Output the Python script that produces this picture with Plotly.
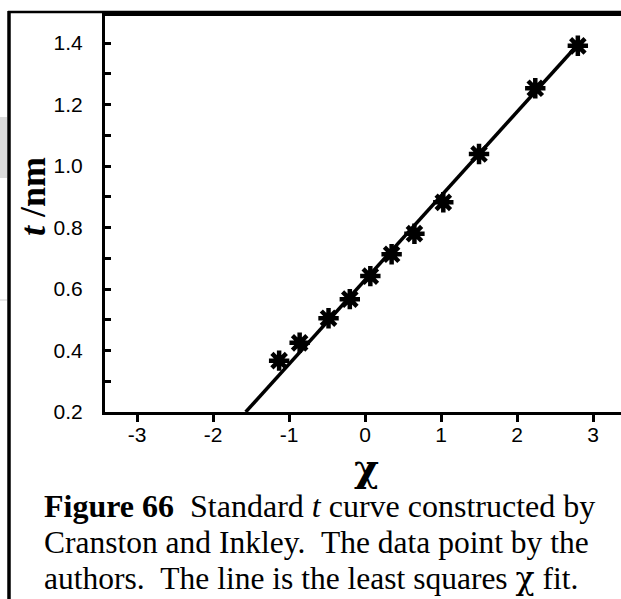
import plotly.graph_objects as go

# data
chi = [-1.13, -0.86, -0.48, -0.20, 0.07, 0.35, 0.65, 1.03, 1.50, 2.24, 2.80]
t_nm = [0.367, 0.425, 0.505, 0.567, 0.642, 0.713, 0.780, 0.882, 1.039, 1.253, 1.391]
fit_chi = [-1.57, 2.79]
fit_t = [0.20, 1.392]
x_ticks = [-3, -2, -1, 0, 1, 2, 3]
x_tick_labels = ["-3", "-2", "-1", "0", "1", "2", "3"]
y_ticks = [0.2, 0.4, 0.6, 0.8, 1.0, 1.2, 1.4]
y_tick_labels = ["0.2", "0.4", "0.6", "0.8", "1.0", "1.2", "1.4"]

W, H = 621, 599
L, R, T, B = 105, 0, 16, 187
PW, PH = W - L - R, H - T - B


def px(x):
    return (x - L) / PW


def py(y):
    return (H - B - y) / PH


fig = go.Figure()
fig.add_trace(go.Scatter(x=fit_chi, y=fit_t, mode="lines",
                         line=dict(color="black", width=3.5), showlegend=False))
fig.add_trace(go.Scatter(x=chi, y=t_nm, mode="markers",
                         marker=dict(symbol="asterisk-open", size=17, color="black",
                                     line=dict(color="black", width=4.5)),
                         showlegend=False))
fig.add_trace(go.Scatter(x=chi, y=t_nm, mode="markers",
                         marker=dict(symbol="circle", size=9, color="black"),
                         showlegend=False))

fig.update_layout(
    xaxis=dict(range=[-3.421, 3.368], tickvals=x_ticks, ticktext=x_tick_labels,
               ticks="outside", ticklen=7, tickwidth=2.5, tickcolor="black",
               showline=True, linewidth=3, linecolor="black", mirror=True,
               showgrid=False, zeroline=False,
               tickfont=dict(family="Arial", size=21, color="black"),
               ticklabelstandoff=-5),
    yaxis=dict(range=[0.2, 1.488], tickvals=y_ticks, ticktext=y_tick_labels,
               ticks="inside", ticklen=6, tickwidth=2.5, tickcolor="black",
               minor=dict(ticks="inside", ticklen=6, tickwidth=2.5, tickcolor="black",
                          tickvals=[0.3, 0.5, 0.7, 0.9, 1.1, 1.3]),
               showline=True, linewidth=3, linecolor="black", showgrid=False,
               zeroline=False,
               tickfont=dict(family="Arial", size=21, color="black"),
               ticklabelstandoff=15))

serif = "Liberation Serif, Times New Roman"
greek = "DejaVu Serif"
NB = "\u00a0"
annotations = [
    dict(x=px(33), y=py(197), text="<b><i>t</i> /nm</b>", textangle=-90,
         font=dict(family=serif, size=36, color="black")),
    dict(x=px(366), y=py(467), text="<b>χ</b>",
         font=dict(family=greek, size=38, color="black")),
    dict(x=px(42), y=py(506), xanchor="left",
         text="<b>Figure 66</b>" + NB + NB + "Standard <i>t</i> curve constructed by",
         font=dict(family=serif, size=32, color="black")),
    dict(x=px(42), y=py(542), xanchor="left",
         text="Cranston and Inkley." + NB + NB + "The data point by the",
         font=dict(family=serif, size=31.5, color="black")),
    dict(x=px(42), y=py(578), xanchor="left",
         text="authors." + NB + NB + "The line is the least squares "
              "<span style='font-family:DejaVu Serif'>χ</span> fit.",
         font=dict(family=serif, size=31.5, color="black")),
]
for a in annotations:
    a.update(xref="paper", yref="paper", showarrow=False, yanchor="middle")
    a.setdefault("xanchor", "center")

shapes = [
    dict(type="line", xref="paper", yref="paper", x0=px(9), x1=px(9), y0=py(11), y1=py(599),
         line=dict(color="black", width=3.5)),
    dict(type="line", xref="paper", yref="paper", x0=px(8), x1=px(621), y0=py(12), y1=py(12),
         line=dict(color="black", width=2.5)),
    dict(type="rect", xref="paper", yref="paper", x0=px(0), x1=px(7), y0=py(117), y1=py(178),
         fillcolor="#dadada", line=dict(width=0), layer="below"),
    dict(type="line", xref="paper", yref="paper", x0=px(0), x1=px(7), y0=py(300), y1=py(300),
         line=dict(color="#d0d0d0", width=1)),
]

fig.update_layout(width=W, height=H, margin=dict(l=L, r=R, t=T, b=B),
                  plot_bgcolor="white", paper_bgcolor="white",
                  annotations=annotations, shapes=shapes)

fig.write_html("out.html")
